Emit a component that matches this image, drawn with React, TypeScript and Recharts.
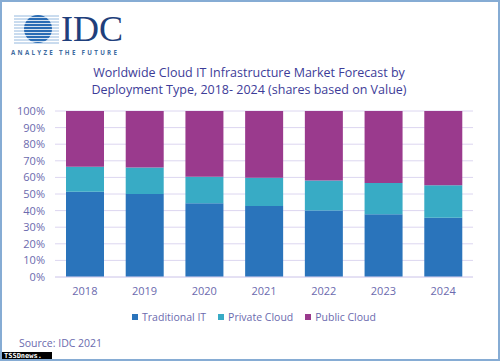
import React from "react";
import { BarChart, Bar, XAxis, YAxis, CartesianGrid } from "recharts";

const years = ["2018", "2019", "2020", "2021", "2022", "2023", "2024"];
const traditionalIT = [51.4, 50.0, 44.4, 42.8, 40.0, 37.8, 35.7];
const privateCloud = [15.0, 16.0, 16.0, 17.0, 18.2, 18.8, 19.5];
const publicCloud = [33.6, 34.0, 39.6, 40.2, 41.8, 43.4, 44.8];
const yTicks = [0, 10, 20, 30, 40, 50, 60, 70, 80, 90, 100];

const series = [
    { key: "traditional", name: "Traditional IT", color: "#2a74bb" },
    { key: "private", name: "Private Cloud", color: "#38abc5" },
    { key: "public", name: "Public Cloud", color: "#9a3a8d" },
];

const data = years.map((year, i) => ({
    year,
    traditional: traditionalIT[i],
    private: privateCloud[i],
    public: publicCloud[i],
}));

const font = "'Open Sans', 'Noto Sans', sans-serif";
const tickColor = "#6b6aae";
const gridColor = "#dcd6f0";

// globe with stripes, drawn as plain svg shapes
function Logo() {
    const stripes = [14, 17, 20, 23, 26, 29, 32, 35, 38, 41];
    return (
        <>
            <svg width={60} height={46} style={{ position: "absolute", left: 0, top: 0 }}>
                <defs>
                    <clipPath id="globe">
                        <circle cx={36} cy={27} r={14} />
                    </clipPath>
                </defs>
                {stripes.map((y) => (
                    <line key={y} x1={12} x2={57} y1={y} y2={y} stroke="#7aa6d6" strokeWidth={0.8} />
                ))}
                <g clipPath="url(#globe)">
                    {stripes.map((y) => (
                        <rect key={y} x={20} y={y - 1.1} width={34} height={2.2} fill="#2a6cb4" />
                    ))}
                </g>
            </svg>
            <div
                style={{
                    position: "absolute",
                    left: 59,
                    top: 12,
                    height: 30,
                    lineHeight: "30px",
                    fontFamily: "'Liberation Serif', 'DejaVu Serif', serif",
                    fontSize: 36,
                    color: "#1f3f7c",
                }}
            >
                IDC
            </div>
            <div
                style={{
                    position: "absolute",
                    left: 9,
                    top: 47,
                    lineHeight: "8px",
                    fontSize: 6.2,
                    fontWeight: 700,
                    letterSpacing: 2.3,
                    color: "#3f6c9f",
                }}
            >
                ANALYZE THE FUTURE
            </div>
        </>
    );
}

export default function App() {
    return (
        <div
            style={{
                position: "absolute",
                left: 0,
                top: 0,
                width: 500,
                height: 361,
                background: "#fff",
                boxSizing: "border-box",
                border: "2px solid #86acd4",
                fontFamily: font,
                overflow: "hidden",
            }}
        >
            <Logo />
            <div
                style={{
                    position: "absolute",
                    top: 62,
                    left: 0,
                    width: 494,
                    textAlign: "center",
                    fontSize: 12.5,
                    lineHeight: "17px",
                    color: "#3d3c98",
                }}
            >
                Worldwide Cloud IT Infrastructure Market Forecast by
                <br />
                Deployment Type, 2018- 2024 (shares based on Value)
            </div>

            <div style={{ position: "absolute", left: -2, top: -2 }}>
                <BarChart width={500} height={300} data={data} margin={{ top: 111, right: 27, left: 0, bottom: 0 }}>
                    <CartesianGrid vertical={false} stroke={gridColor} />
                    <XAxis
                        dataKey="year"
                        height={23}
                        tickLine={false}
                        axisLine={{ stroke: gridColor }}
                        tickSize={0}
                        tickMargin={10}
                        tick={{ fill: tickColor, fontSize: 11, fontFamily: font }}
                    />
                    <YAxis
                        width={55}
                        domain={[0, 100]}
                        ticks={yTicks}
                        interval={0}
                        tickFormatter={(v) => `${v}%`}
                        tickLine={false}
                        axisLine={false}
                        tickSize={0}
                        tickMargin={10}
                        tick={{ fill: tickColor, fontSize: 11, fontFamily: font }}
                    />
                    {series.map((s) => (
                        <Bar
                            key={s.key}
                            dataKey={s.key}
                            name={s.name}
                            stackId="share"
                            fill={s.color}
                            barSize={38}
                            isAnimationActive={false}
                        />
                    ))}
                </BarChart>
            </div>

            <div
                style={{
                    position: "absolute",
                    top: 308,
                    left: 0,
                    width: 496,
                    display: "flex",
                    justifyContent: "center",
                    gap: 12,
                    fontSize: 10.5,
                    color: tickColor,
                    marginLeft: 4,
                }}
            >
                {series.map((s) => (
                    <span key={s.key} style={{ display: "flex", alignItems: "center" }}>
                        <span style={{ width: 6, height: 6, background: s.color, marginRight: 4 }} />
                        {s.name}
                    </span>
                ))}
            </div>

            <div
                style={{
                    position: "absolute",
                    top: 336,
                    left: 17,
                    fontSize: 10.5,
                    lineHeight: "11px",
                    color: tickColor,
                }}
            >
                Source: IDC 2021
            </div>
            <div
                style={{
                    position: "absolute",
                    left: 0,
                    top: 350,
                    width: 48,
                    height: 8,
                    background: "#000",
                    color: "#fff",
                    fontFamily: "'DejaVu Sans Mono', monospace",
                    fontSize: 7,
                    lineHeight: "8px",
                    fontWeight: 700,
                    paddingLeft: 2,
                }}
            >
                TSSDnews.
            </div>
        </div>
    );
}
